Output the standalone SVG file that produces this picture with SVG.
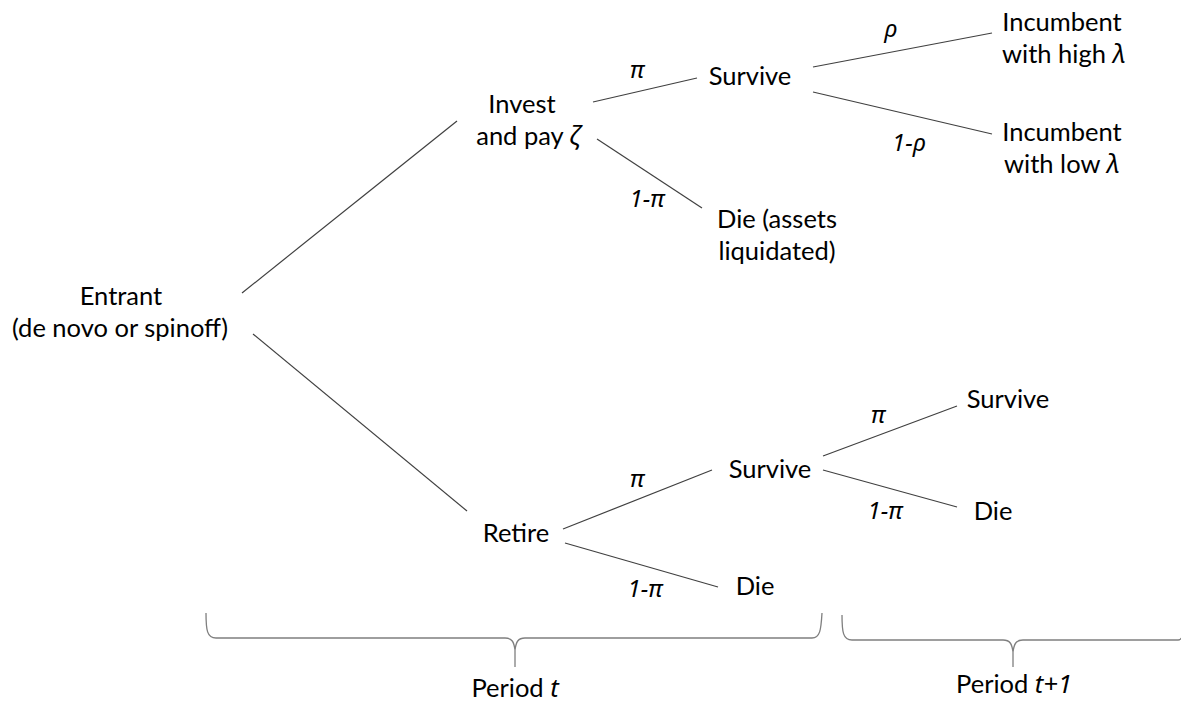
<svg xmlns="http://www.w3.org/2000/svg" width="1181" height="707" viewBox="0 0 1181 707">
<style>
.t{font-family:Lato,"Noto Sans","Liberation Sans",sans-serif;font-size:25.5px;fill:#000;text-anchor:middle}
.g{font-family:"Noto Sans","Liberation Sans",sans-serif;font-style:italic;font-size:24px;fill:#000;text-anchor:middle}
.gi{font-family:"Noto Sans","Liberation Sans",sans-serif;font-style:italic}
.c line{stroke:#404040;stroke-width:1.2}
.b{fill:none;stroke:#7f7f7f;stroke-width:1.3}
</style>
<rect width="1181" height="707" fill="#fff"/>
<g id="connectors" class="c">
<line x1="242" y1="293" x2="457" y2="121"/>
<line x1="253" y1="334" x2="467" y2="511"/>
<line x1="593" y1="102" x2="697" y2="78"/>
<line x1="597" y1="139" x2="702" y2="208"/>
<line x1="813" y1="67" x2="992" y2="33"/>
<line x1="813" y1="92" x2="992" y2="134"/>
<line x1="563" y1="529" x2="712" y2="470"/>
<line x1="565" y1="543" x2="718" y2="587"/>
<line x1="823" y1="456" x2="957" y2="406"/>
<line x1="823" y1="470" x2="957" y2="507"/>
</g>
<g id="labels">
<text class="g" x="637" y="78">π</text>
<text class="g" x="647" y="207">1-π</text>
<text class="g" x="891" y="37">ρ</text>
<text class="g" x="909" y="151">1-ρ</text>
<text class="g" x="637" y="487">π</text>
<text class="g" x="645" y="597">1-π</text>
<text class="g" x="878" y="423">π</text>
<text class="g" x="885" y="519">1-π</text>
</g>
<g id="entrant"><text class="t" x="121" y="305">Entrant</text><text class="t" x="120" y="337">(de novo or spinoff)</text></g>
<g id="invest"><text class="t" x="522" y="113">Invest</text><text class="t" x="528" y="145">and pay <tspan class="gi">ζ</tspan></text></g>
<g id="survive1"><text class="t" x="750" y="85">Survive</text></g>
<g id="die1"><text class="t" x="777" y="228">Die (assets</text><text class="t" x="777" y="260">liquidated)</text></g>
<g id="inc-high"><text class="t" x="1062" y="31">Incumbent</text><text class="t" x="1064" y="63">with high <tspan class="gi">λ</tspan></text></g>
<g id="inc-low"><text class="t" x="1062" y="141">Incumbent</text><text class="t" x="1062" y="173">with low <tspan class="gi">λ</tspan></text></g>
<g id="retire"><text class="t" x="516" y="542">Retire</text></g>
<g id="survive2"><text class="t" x="770" y="478">Survive</text></g>
<g id="die2"><text class="t" x="755" y="595">Die</text></g>
<g id="survive3"><text class="t" x="1008" y="408">Survive</text></g>
<g id="die3"><text class="t" x="993" y="520">Die</text></g>
<g id="period-t">
<path class="b" d="M206,613 C206,630 207,638 216,638 L505,638 C512,638 514,642 515,650 L515,667 M515,650 C516,642 518,638 525,638 L812,638 C820,638 821,630 822,613"/>
<text class="t" x="515" y="697">Period <tspan class="gi">t</tspan></text>
</g>
<g id="period-t1">
<path class="b" d="M842,615 C842,632 843,640 852,640 L1003,640 C1010,640 1012,644 1013,652 L1013,667 M1013,652 C1014,644 1016,640 1023,640 L1178,640 C1181,640 1182,638 1183,634"/>
<text class="t" x="1014" y="693">Period <tspan class="gi">t+1</tspan></text>
</g>
</svg>
